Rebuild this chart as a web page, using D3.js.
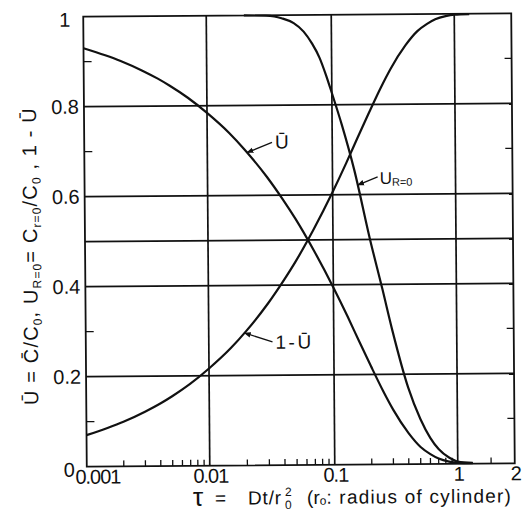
<!DOCTYPE html>
<html>
<head>
<meta charset="utf-8">
<script src="https://cdn.jsdelivr.net/npm/d3@7"></script>
<style>
  html, body { margin: 0; padding: 0; background: #fff; }
  svg { display: block; }
  text { font-family: "Liberation Sans", Arial, sans-serif; fill: #111; }
</style>
</head>
<body>
<svg id="chart" width="522" height="518"></svg>
<script>
// Dimensionless time tau = Dt / r0^2
const tauAvg = [0.001, 0.0015, 0.002, 0.003, 0.004, 0.005, 0.007, 0.01, 0.015, 0.02, 0.03, 0.04,
                0.05, 0.07, 0.1, 0.13, 0.16, 0.2, 0.25, 0.3, 0.4, 0.5, 0.6, 0.7, 0.85, 1.0, 1.2];
// Mean fraction remaining, U-bar = C-bar / C0
const uBar = [0.930, 0.914, 0.901, 0.879, 0.861, 0.845, 0.818, 0.784, 0.739, 0.701, 0.640, 0.590,
              0.548, 0.477, 0.394, 0.329, 0.275, 0.218, 0.163, 0.122, 0.069, 0.038, 0.022, 0.012, 0.005, 0.002, 0.001];
// Fraction released, 1 - U-bar
const oneMinusUBar = [0.070, 0.086, 0.099, 0.121, 0.139, 0.155, 0.182, 0.216, 0.261, 0.299, 0.360, 0.410,
                      0.452, 0.523, 0.606, 0.671, 0.725, 0.782, 0.837, 0.878, 0.931, 0.962, 0.978, 0.988, 0.995, 0.998, 0.999];

// Centre-line concentration, U(R=0) = C(r=0) / C0
const tauCenter = [0.02, 0.03, 0.035, 0.04, 0.05, 0.06, 0.07, 0.08, 0.09, 0.1, 0.12, 0.15, 0.2, 0.25,
                   0.3, 0.4, 0.5, 0.6, 0.7, 0.85, 1.0, 1.2];
const uCenter = [1.000, 0.999, 0.997, 0.993, 0.982, 0.963, 0.936, 0.905, 0.866, 0.826, 0.755, 0.656, 0.500, 0.390,
                 0.297, 0.170, 0.100, 0.058, 0.033, 0.014, 0.005, 0.002];

// Axis furniture
const xGrid = [0.01, 0.1, 1];
const yGrid = [0.2, 0.4, 0.5, 0.6, 0.8];
const xTickValues = [0.001, 0.01, 0.1, 1, 2];
const xTickLabels = ["0.001", "0.01", "0.1", "1", "2"];
const yTickValues = [0, 0.2, 0.4, 0.6, 0.8, 1];
const yTickLabels = ["0", "0.2", "0.4", "0.6", "0.8", "1"];
const yMinor = [0.1, 0.3, 0.7, 0.9];
const xMinor = [0.002, 0.003, 0.004, 0.005, 0.006, 0.007, 0.008, 0.009,
                0.02, 0.03, 0.04, 0.05, 0.06, 0.07, 0.08, 0.09,
                0.2, 0.3, 0.4, 0.5, 0.6, 0.7, 0.8, 0.9, 1.5];

const svg = d3.select("#chart");
// the whole sheet sits very slightly turned
const g = svg.append("g").attr("transform", "rotate(-0.45, 298, 240)");

// Log time axis (last interval from 1 to 2 is drawn a little wider)
const x = d3.scaleLog().domain([0.001, 0.01, 0.1, 1, 2]).range([85, 208, 333, 456, 513]);
const y = d3.scaleLinear().domain([0, 1]).range([465, 15]);

const ink = "#111";

// grid
g.selectAll("line.hgrid").data(yGrid).join("line")
  .attr("x1", x(0.001)).attr("x2", x(2))
  .attr("y1", d => y(d)).attr("y2", d => y(d))
  .attr("stroke", ink).attr("stroke-width", 1.7);
g.selectAll("line.vgrid").data(xGrid).join("line")
  .attr("x1", d => x(d)).attr("x2", d => x(d))
  .attr("y1", y(0)).attr("y2", y(1))
  .attr("stroke", ink).attr("stroke-width", 1.7);

// frame
g.append("rect")
  .attr("x", x(0.001)).attr("y", y(1))
  .attr("width", x(2) - x(0.001)).attr("height", y(0) - y(1))
  .attr("fill", "none").attr("stroke", ink).attr("stroke-width", 1.8);

// minor ticks
g.selectAll("line.xminor").data(xMinor).join("line")
  .attr("x1", d => x(d)).attr("x2", d => x(d))
  .attr("y1", y(0)).attr("y2", y(0) - 6)
  .attr("stroke", ink).attr("stroke-width", 1.3);
g.selectAll("line.yminorL").data(yMinor).join("line")
  .attr("x1", x(0.001)).attr("x2", x(0.001) + 8)
  .attr("y1", d => y(d)).attr("y2", d => y(d))
  .attr("stroke", ink).attr("stroke-width", 1.3);
g.selectAll("line.yminorR").data(yMinor).join("line")
  .attr("x1", x(2)).attr("x2", x(2) - 7)
  .attr("y1", d => y(d)).attr("y2", d => y(d))
  .attr("stroke", ink).attr("stroke-width", 1.3);

// tick labels
g.selectAll("text.xt").data(xTickValues).join("text")
  .attr("x", (d, i) => x(d) + (i === 0 ? 11 : 1))
  .attr("y", y(0) + 17)
  .attr("text-anchor", "middle")
  .attr("font-size", 20)
  .attr("letter-spacing", -1)
  .text((d, i) => xTickLabels[i]);
g.selectAll("text.yt").data(yTickValues).join("text")
  .attr("x", d => d === 0 ? x(0.001) - 12 : (d === 1 ? x(0.001) - 13 : x(0.001) - 5))
  .attr("y", d => y(d) + (d === 0 ? 10 : (d === 1 ? 10 : 7)))
  .attr("text-anchor", "end")
  .attr("font-size", 20)
  .text((d, i) => yTickLabels[i]);

// curves
const line = d3.line().curve(d3.curveMonotoneX).x(d => x(d[0])).y(d => y(d[1]));
const series = [
  d3.zip(tauAvg, uBar),
  d3.zip(tauAvg, oneMinusUBar),
  d3.zip(tauCenter, uCenter)
];
g.selectAll("path.curve").data(series).join("path")
  .attr("d", line)
  .attr("fill", "none").attr("stroke", ink).attr("stroke-width", 2.2)
  .attr("stroke-linejoin", "round");

// leader arrows from the curve labels
svg.append("defs").append("marker")
  .attr("id", "head").attr("viewBox", "0 0 10 10")
  .attr("refX", 9).attr("refY", 5)
  .attr("markerWidth", 7).attr("markerHeight", 7)
  .attr("markerUnits", "userSpaceOnUse")
  .attr("orient", "auto")
  .append("path").attr("d", "M0,1 L10,5 L0,9 Z").attr("fill", ink);

function valueAt(taus, vals, t) {
  const lt = Math.log10(t);
  const i = d3.bisectLeft(taus, t);
  if (i <= 0) return vals[0];
  const a = Math.log10(taus[i - 1]), b = Math.log10(taus[i]);
  return vals[i - 1] + (vals[i] - vals[i - 1]) * (lt - a) / (b - a);
}

const notes = [
  { tau: 0.0208, taus: tauAvg, vals: uBar, dx: 25, dy: -10 },
  { tau: 0.0193, taus: tauAvg, vals: oneMinusUBar, dx: 28, dy: 9 },
  { tau: 0.16, taus: tauCenter, vals: uCenter, dx: 20, dy: -8 }
];
notes.forEach(n => {
  n.px = x(n.tau);
  n.py = y(valueAt(n.taus, n.vals, n.tau));
  g.append("line")
    .attr("x1", n.px + n.dx).attr("y1", n.py + n.dy)
    .attr("x2", n.px).attr("y2", n.py)
    .attr("stroke", ink).attr("stroke-width", 1.3)
    .attr("marker-end", "url(#head)");
});

g.append("text").attr("x", notes[0].px + 28).attr("y", notes[0].py - 4)
  .attr("font-size", 19).text("\u016A");
g.append("text").attr("x", notes[1].px + 31).attr("y", notes[1].py + 16)
  .attr("font-size", 19).attr("letter-spacing", -1.4).text("1 - \u016A");
const t3 = g.append("text").attr("x", notes[2].px + 22).attr("y", notes[2].py - 1)
  .attr("font-size", 17);
t3.append("tspan").text("U");
t3.append("tspan").attr("font-size", 11).attr("dy", 2).text("R=0");

// y-axis title (reads bottom to top)
const yt = g.append("text")
  .attr("transform", "translate(37,254) rotate(-90)")
  .attr("text-anchor", "middle")
  .attr("font-size", 20);
yt.append("tspan").text("\u016A = C\u0304/C");
yt.append("tspan").attr("font-size", 12).attr("dy", 4).text("0");
yt.append("tspan").attr("dy", -4).text(", U");
yt.append("tspan").attr("font-size", 12).attr("dy", 4).text("R=0");
yt.append("tspan").attr("dy", -4).text("= C");
yt.append("tspan").attr("font-size", 12).attr("dy", 4).text("r=0");
yt.append("tspan").attr("dy", -4).text("/C");
yt.append("tspan").attr("font-size", 12).attr("dy", 4).text("0");
yt.append("tspan").attr("dy", -4).text(" , 1 - \u016A");
// loosen or tighten the letters so the title spans the axis length on screen
{
  const want = 298;
  const n = yt.text().length;
  let ls = 0;
  for (let k = 0; k < 4; k++) {
    const have = yt.node().getBoundingClientRect().height;
    ls += (want - have) / n;
    yt.style("letter-spacing", ls + "px");
    yt.selectAll("tspan").style("letter-spacing", ls + "px");
  }
}

// x-axis title
g.append("text").attr("x", 191).attr("y", 505).attr("font-size", 26).text("\u03C4");
const xt = g.append("text")
  .attr("y", 504)
  .attr("font-size", 19);
xt.append("tspan").attr("x", 213).text("=");
xt.append("tspan").attr("x", 246).attr("letter-spacing", 0.8).text("Dt/r");
xt.append("tspan").attr("x", 283).attr("font-size", 12).attr("dy", -8).text("2");
xt.append("tspan").attr("x", 283).attr("font-size", 12).attr("dy", 13).text("0");
xt.append("tspan").attr("x", 305).attr("dy", -5).text("(r");
xt.append("tspan").attr("font-size", 12).attr("dy", 1).text("o");
xt.append("tspan").attr("dy", -1).attr("letter-spacing", 1.2).text(": radius of cylinder)");
</script>
</body>
</html>
